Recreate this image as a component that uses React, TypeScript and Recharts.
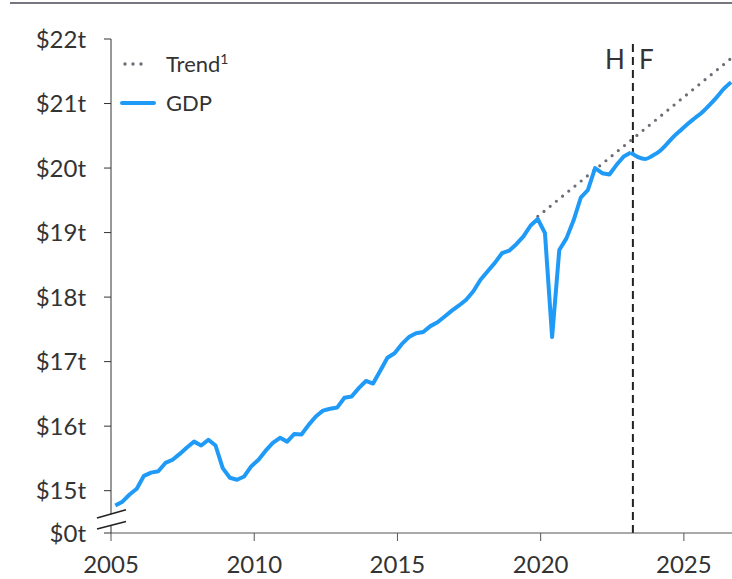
import React from 'react'
import { LineChart, Line, XAxis, YAxis, ReferenceLine, Legend } from 'recharts'

const startYear = 2005
const forecastStart = '2023Q1'

// real GDP, $ trillions, quarterly from 2005Q1
const gdpHistory = [
  14.77, 14.83, 14.94, 15.03,
  15.23, 15.28, 15.3, 15.43,
  15.48, 15.57, 15.67, 15.76,
  15.7, 15.79, 15.7, 15.35,
  15.2, 15.17, 15.22, 15.38,
  15.48, 15.62, 15.74, 15.82,
  15.76, 15.88, 15.87, 16.02,
  16.15, 16.24, 16.27, 16.29,
  16.44, 16.46, 16.59, 16.7,
  16.66, 16.86, 17.06, 17.13,
  17.27, 17.38, 17.44, 17.46,
  17.55, 17.61, 17.7, 17.79,
  17.87, 17.96, 18.09, 18.27,
  18.4, 18.53, 18.68, 18.72,
  18.82, 18.94, 19.11, 19.21,
  18.99, 17.38, 18.73, 18.91,
  19.19, 19.54, 19.66, 20.0,
  19.92, 19.9, 20.05, 20.18,
  20.24,
]

// forecast from 2023Q1 on
const gdpForecast = [
  20.24, 20.17, 20.14, 20.19,
  20.26, 20.37, 20.49, 20.59,
  20.69, 20.78, 20.87, 20.98,
  21.1, 21.23, 21.33,
]

const trendQuarters = ['2019Q4', '2026Q3']
const trendValues = [19.25, 21.7]

const yearTicks = [2005, 2010, 2015, 2020, 2025]
const breakValue = 14.344
const valueTicks = [breakValue, 15, 16, 17, 18, 19, 20, 21, 22]
const splitYear = 2023.22

const gdpColor = '#1f9bf7'
const trendColor = '#6f6c78'
const textColor = '#333'
const font = 'Lato, sans-serif'

const quarterToYear = (label: string) => {
  const [y, q] = label.split('Q').map(Number)
  return y + (q - 1) * 0.25 + 0.15
}

const quarterLabel = (i: number, from: string) => {
  const [y, q] = from.split('Q').map(Number)
  const n = (q - 1) + i
  return `${y + Math.floor(n / 4)}Q${(n % 4) + 1}`
}

const historyData = gdpHistory.map((v, i) => ({ t: quarterToYear(quarterLabel(i, `${startYear}Q1`)), v }))
const forecastData = gdpForecast.map((v, i) => ({ t: quarterToYear(quarterLabel(i, forecastStart)), v }))
const trendData = trendQuarters.map((q, i) => ({ t: quarterToYear(q), v: trendValues[i] }))

const YTick = (props: any) => {
  const { x, y, payload } = props
  const isBreak = payload.value < 14.5
  const axisX = x + 25
  return (
    <g>
      {isBreak && (
        <g>
          <polygon
            points={`${axisX - 5},${y - 6} ${axisX + 5},${y - 9} ${axisX + 5},${y - 20} ${axisX - 5},${y - 17}`}
            fill="#fff"
          />
          <line x1={axisX - 14} y1={y - 15} x2={axisX + 15} y2={y - 23.3} stroke="#222" strokeWidth={1.6} />
          <line x1={axisX - 14} y1={y - 4} x2={axisX + 15} y2={y - 11.6} stroke="#222" strokeWidth={1.6} />
        </g>
      )}
      <text x={x} y={y} dy="0.36em" textAnchor="end" fill={textColor} fontSize={24} fontFamily={font}>
        {isBreak ? '$0t' : `$${payload.value}t`}
      </text>
    </g>
  )
}

const SplitLabel = (props: any) => {
  const { x, y } = props.viewBox
  return (
    <g fontFamily={font} fontSize={26} fill={textColor}>
      <text x={x - 8} y={y + 30} textAnchor="end">H</text>
      <text x={x + 6} y={y + 30} textAnchor="start">F</text>
    </g>
  )
}

const renderLegend = () => (
  <div style={{ fontFamily: font, fontSize: 22, color: textColor }}>
    <div style={{ display: 'flex', alignItems: 'center', height: 39 }}>
      <svg width={48} height={10}>
        {[7, 15, 23].map((cx) => (
          <circle key={cx} cx={cx} cy={5} r={1.7} fill={trendColor} />
        ))}
      </svg>
      <span>
        Trend<span style={{ fontSize: 14, position: 'relative', top: -8 }}>1</span>
      </span>
    </div>
    <div style={{ display: 'flex', alignItems: 'center', height: 39 }}>
      <svg width={48} height={10}>
        <line x1={4} y1={5} x2={36} y2={5} stroke={gdpColor} strokeWidth={4} strokeLinecap="round" />
      </svg>
      <span>GDP</span>
    </div>
  </div>
)

export default function App() {
  return (
    <div style={{ position: 'absolute', left: 0, top: 0, width: 732, height: 579, background: '#fff' }}>
      <div style={{ position: 'absolute', left: 10, right: 0, top: 2, height: 2, background: '#77767e' }} />
      <LineChart width={732} height={579} margin={{ top: 39, right: 0, bottom: 0, left: 0 }}>
        <XAxis
          dataKey="t"
          type="number"
          domain={[2005, 2026.68]}
          allowDataOverflow
          ticks={yearTicks}
          height={46}
          tickSize={8}
          tickMargin={15}
          stroke="#555"
          tick={{ fill: textColor, fontSize: 24, fontFamily: font }}
        />
        <YAxis
          type="number"
          domain={[breakValue, 22]}
          allowDataOverflow
          ticks={valueTicks}
          width={111}
          tickSize={7}
          tickMargin={18}
          stroke="#333"
          tick={<YTick />}
        />
        <Legend
          layout="vertical"
          align="center"
          verticalAlign="middle"
          wrapperStyle={{ left: 118, top: 44, width: 200 }}
          content={renderLegend}
        />
        <ReferenceLine
          x={splitYear}
          stroke="#222"
          strokeWidth={2}
          strokeDasharray="8 5"
          label={<SplitLabel />}
        />
        <Line
          data={trendData}
          dataKey="v"
          stroke={trendColor}
          strokeWidth={3.2}
          strokeDasharray="0 8"
          strokeLinecap="round"
          dot={false}
          isAnimationActive={false}
        />
        <Line
          data={historyData}
          dataKey="v"
          type="linear"
          stroke={gdpColor}
          strokeWidth={4}
          strokeLinejoin="round"
          dot={false}
          isAnimationActive={false}
        />
        <Line
          data={forecastData}
          dataKey="v"
          type="monotone"
          stroke={gdpColor}
          strokeWidth={4}
          dot={false}
          isAnimationActive={false}
        />
      </LineChart>
    </div>
  )
}
